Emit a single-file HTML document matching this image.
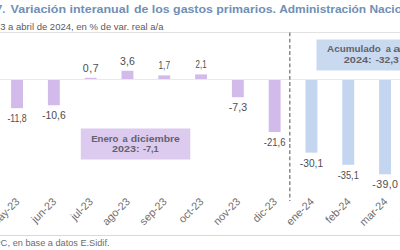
<!DOCTYPE html>
<html><head><meta charset="utf-8"><style>
html,body{margin:0;padding:0;background:#fff;width:400px;height:250px;overflow:hidden}
svg{display:block}
text{font-family:"Liberation Sans",sans-serif}
.t{font-size:10.8px;font-weight:bold;fill:#6f8fb6}
.s{font-size:8.8px;fill:#5a5a5a}
.v{font-size:10.6px;fill:#4e4e4e}
.x{font-size:10.8px;fill:#6e6e6e}
.b{font-size:9.3px;font-weight:bold;fill:#62626c}
.f{font-size:9.4px;fill:#6c6c6c}
</style></head><body>
<svg width="400" height="250" viewBox="0 0 400 250">
<text x="5.3" y="13.1" text-anchor="end" class="t">Gráfico 7.</text>
<text x="10.6" y="13.1" class="t" textLength="118.5" lengthAdjust="spacingAndGlyphs">Variación interanual</text>
<text x="134" y="13.1" class="t" textLength="142" lengthAdjust="spacingAndGlyphs">de los gastos primarios.</text>
<text x="279.2" y="13.1" class="t" textLength="140" lengthAdjust="spacingAndGlyphs">Administración Nacional</text>
<text x="-0.5" y="29.5" text-anchor="end" class="s">Mayo 202</text><text x="0.2" y="29.5" class="s" textLength="163.3" lengthAdjust="spacingAndGlyphs">3 a abril de 2024, en % de var. real a/a</text>
<rect x="0" y="32" width="400" height="1" fill="#e2e2e2"/>
<rect x="11.10" y="79.50" width="11.9" height="28.67" fill="#d2bbea"/><rect x="47.90" y="79.50" width="11.9" height="25.76" fill="#d2bbea"/><rect x="84.70" y="77.80" width="11.9" height="1.70" fill="#d2bbea"/><rect x="121.50" y="70.75" width="11.9" height="8.75" fill="#d2bbea"/><rect x="158.30" y="75.37" width="11.9" height="4.13" fill="#d2bbea"/><rect x="195.10" y="74.40" width="11.9" height="5.10" fill="#d2bbea"/><rect x="231.90" y="79.50" width="11.9" height="17.74" fill="#d2bbea"/><rect x="268.70" y="79.50" width="11.9" height="52.49" fill="#d2bbea"/><rect x="305.50" y="79.50" width="11.9" height="73.14" fill="#c4d5f0"/><rect x="342.30" y="79.50" width="11.9" height="85.29" fill="#c4d5f0"/><rect x="379.10" y="79.50" width="11.9" height="94.77" fill="#c4d5f0"/><rect x="415.90" y="79.50" width="11.9" height="97.20" fill="#c4d5f0"/>
<rect x="0" y="79" width="400" height="1" fill="#e9e9e9"/>
<line x1="289.8" y1="32.5" x2="289.8" y2="201" stroke="#7a7a7a" stroke-width="1.3" stroke-dasharray="3.8,2.4"/>
<rect x="80.8" y="128.5" width="109.5" height="31" fill="#dccbef"/>
<text x="91.2" y="141.9" class="b" textLength="27.3" lengthAdjust="spacingAndGlyphs">Enero</text>
<text x="122.5" y="141.9" class="b">a</text>
<text x="130.7" y="141.9" class="b" textLength="49.2" lengthAdjust="spacingAndGlyphs">diciembre</text>
<text x="112.0" y="152.4" class="b" textLength="27.5" lengthAdjust="spacingAndGlyphs">2023:</text>
<text x="142.9" y="152.4" class="b" textLength="15.8" lengthAdjust="spacingAndGlyphs">-7,1</text>
<rect x="316.5" y="39.5" width="120" height="31" fill="#c9d9ef"/>
<text x="327.0" y="52" class="b" textLength="53.8" lengthAdjust="spacingAndGlyphs">Acumulado</text>
<text x="385.8" y="52" class="b">a</text>
<text x="393.3" y="52" class="b" textLength="27" lengthAdjust="spacingAndGlyphs">abril</text>
<text x="343.8" y="62.7" class="b" textLength="27.9" lengthAdjust="spacingAndGlyphs">2024:</text>
<text x="375.4" y="62.7" class="b" textLength="23.4" lengthAdjust="spacingAndGlyphs">-32,3</text>
<text x="17.05" y="122.37" text-anchor="middle" class="v" textLength="19.20" lengthAdjust="spacingAndGlyphs">-11,8</text><text x="53.85" y="119.46" text-anchor="middle" class="v" textLength="23.70" lengthAdjust="spacingAndGlyphs">-10,6</text><text x="90.65" y="71.70" text-anchor="middle" class="v" textLength="16.00" lengthAdjust="spacing">0,7</text><text x="127.45" y="64.65" text-anchor="middle" class="v" textLength="14.90" lengthAdjust="spacing">3,6</text><text x="164.25" y="69.27" text-anchor="middle" class="v" textLength="11.60" lengthAdjust="spacingAndGlyphs">1,7</text><text x="201.05" y="68.30" text-anchor="middle" class="v" textLength="11.10" lengthAdjust="spacingAndGlyphs">2,1</text><text x="237.85" y="111.44" text-anchor="middle" class="v" textLength="18.40" lengthAdjust="spacing">-7,3</text><text x="274.65" y="146.19" text-anchor="middle" class="v" textLength="21.60" lengthAdjust="spacingAndGlyphs">-21,6</text><text x="311.45" y="166.84" text-anchor="middle" class="v" textLength="23.20" lengthAdjust="spacingAndGlyphs">-30,1</text><text x="348.25" y="178.99" text-anchor="middle" class="v" textLength="21.10" lengthAdjust="spacingAndGlyphs">-35,1</text><text x="385.05" y="188.47" text-anchor="middle" class="v" textLength="25.60" lengthAdjust="spacing">-39,0</text><text x="421.85" y="190.90" text-anchor="middle" class="v">-40,0</text>
<text transform="translate(20.25,202.3) rotate(-45)" text-anchor="end" class="x">may-23</text><text transform="translate(57.05,202.3) rotate(-45)" text-anchor="end" class="x">jun-23</text><text transform="translate(93.85,202.3) rotate(-45)" text-anchor="end" class="x">jul-23</text><text transform="translate(130.65,202.3) rotate(-45)" text-anchor="end" class="x">ago-23</text><text transform="translate(167.45,202.3) rotate(-45)" text-anchor="end" class="x">sep-23</text><text transform="translate(204.25,202.3) rotate(-45)" text-anchor="end" class="x">oct-23</text><text transform="translate(241.05,202.3) rotate(-45)" text-anchor="end" class="x">nov-23</text><text transform="translate(277.85,202.3) rotate(-45)" text-anchor="end" class="x">dic-23</text><text transform="translate(314.65,202.3) rotate(-45)" text-anchor="end" class="x">ene-24</text><text transform="translate(351.45,202.3) rotate(-45)" text-anchor="end" class="x">feb-24</text><text transform="translate(388.25,202.3) rotate(-45)" text-anchor="end" class="x">mar-24</text><text transform="translate(425.05,202.3) rotate(-45)" text-anchor="end" class="x">abr-24</text>
<rect x="0" y="235" width="400" height="1" fill="#d9d9d9"/>
<text x="10" y="246.4" text-anchor="end" class="f">Fuente: OPC,</text>
<text x="12.7" y="246.4" class="f" textLength="96.8" lengthAdjust="spacingAndGlyphs">en base a datos E.Sidif.</text>
</svg>
</body></html>
